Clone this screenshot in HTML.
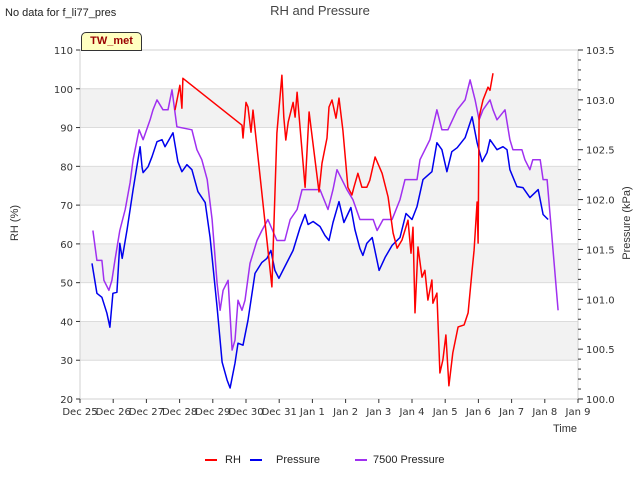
<!DOCTYPE html>
<html><head><meta charset="utf-8"><style>
body{margin:0;background:#fff;font-family:"Liberation Sans","DejaVu Sans",sans-serif}
svg{display:block}
</style></head><body>
<svg id="c" width="640" height="480" font-family="DejaVu Sans, Liberation Sans, sans-serif"></svg>
<script>
const xTickLabels=["Dec 25","Dec 26","Dec 27","Dec 28","Dec 29","Dec 30","Dec 31","Jan 1","Jan 2","Jan 3","Jan 4","Jan 5","Jan 6","Jan 7","Jan 8","Jan 9"];
const rhTicks=[20,30,40,50,60,70,80,90,100,110];
const pTicks=["100.0","100.5","101.0","101.5","102.0","102.5","103.0","103.5"];
const rhDays=[2.86,3.01,3.07,3.10,4.88,4.91,5.00,5.06,5.15,5.21,5.78,5.93,6.08,6.14,6.20,6.27,6.42,6.48,6.54,6.78,6.90,6.96,7.20,7.29,7.44,7.50,7.59,7.71,7.80,7.92,8.07,8.19,8.25,8.37,8.49,8.64,8.73,8.89,9.10,9.28,9.43,9.55,9.70,9.88,9.97,10.03,10.09,10.18,10.30,10.39,10.48,10.60,10.63,10.75,10.84,10.93,11.02,11.11,11.23,11.39,11.57,11.69,11.81,11.87,11.96,11.99,12.02,12.14,12.29,12.35,12.44];
const rhValues=[94.5,100.9,95.0,102.7,90.6,87.3,96.5,95.3,88.8,94.5,48.9,88.6,103.5,92.7,86.8,91.4,96.5,92.7,99.1,74.6,94.0,89.8,73.4,80.8,87.3,95.3,97.1,92.4,97.6,89.3,74.6,72.6,74.6,78.2,74.6,74.6,76.4,82.4,78.2,72.1,62.8,58.9,61.0,66.1,57.6,64.3,42.2,59.2,51.4,53.2,45.5,50.7,44.7,47.3,26.7,30.1,36.5,23.4,31.9,38.6,39.1,42.2,53.2,58.4,70.8,60.2,92.7,97.1,100.4,99.6,104.0];
const pDays=[0.36,0.51,0.66,0.81,0.90,0.99,1.11,1.20,1.27,1.42,1.60,1.81,1.87,1.90,2.05,2.17,2.32,2.47,2.56,2.80,2.95,3.07,3.22,3.37,3.55,3.77,3.92,4.13,4.28,4.43,4.52,4.67,4.76,4.91,5.06,5.27,5.48,5.63,5.75,5.87,5.99,6.11,6.42,6.63,6.78,6.87,7.02,7.23,7.38,7.50,7.62,7.80,7.95,8.16,8.28,8.43,8.52,8.64,8.80,9.01,9.19,9.40,9.64,9.82,10.00,10.15,10.33,10.60,10.75,10.90,11.05,11.20,11.36,11.60,11.81,11.96,12.11,12.26,12.35,12.56,12.74,12.86,12.95,13.16,13.34,13.55,13.80,13.95,14.10];
const pValues=[101.36,101.06,101.02,100.86,100.72,101.06,101.07,101.56,101.41,101.70,102.10,102.53,102.32,102.27,102.33,102.43,102.58,102.60,102.53,102.67,102.38,102.28,102.35,102.30,102.08,101.97,101.62,100.92,100.37,100.19,100.11,100.36,100.56,100.54,100.79,101.26,101.37,101.41,101.49,101.29,101.21,101.29,101.49,101.72,101.85,101.75,101.78,101.73,101.64,101.59,101.77,101.98,101.77,101.92,101.70,101.51,101.44,101.56,101.62,101.29,101.42,101.54,101.62,101.86,101.80,101.93,102.20,102.28,102.57,102.50,102.28,102.48,102.52,102.62,102.83,102.57,102.38,102.47,102.60,102.50,102.53,102.50,102.30,102.13,102.12,102.02,102.10,101.85,101.80];
const p75Days=[0.39,0.51,0.66,0.72,0.87,0.96,1.05,1.20,1.36,1.51,1.60,1.72,1.78,1.90,2.11,2.20,2.32,2.50,2.65,2.77,2.92,3.37,3.52,3.67,3.83,3.98,4.13,4.22,4.31,4.46,4.58,4.67,4.76,4.88,4.97,5.12,5.33,5.48,5.66,5.93,6.17,6.33,6.54,6.69,7.23,7.47,7.62,7.74,7.89,8.04,8.22,8.43,8.83,8.95,9.13,9.40,9.64,9.79,10.15,10.24,10.54,10.75,10.90,11.08,11.36,11.60,11.75,11.90,12.02,12.14,12.35,12.44,12.56,12.80,12.95,13.04,13.31,13.40,13.55,13.64,13.86,13.95,14.07,14.40];
const p75Values=[101.69,101.39,101.39,101.19,101.09,101.19,101.39,101.69,101.90,102.17,102.40,102.60,102.70,102.60,102.80,102.90,103.00,102.90,102.90,103.10,102.73,102.70,102.50,102.40,102.20,101.80,101.16,100.89,101.09,101.19,100.49,100.59,100.99,100.89,100.99,101.36,101.59,101.69,101.80,101.59,101.59,101.80,101.90,102.10,102.10,101.90,102.10,102.30,102.20,102.10,102.00,101.80,101.80,101.69,101.80,101.80,102.00,102.20,102.20,102.40,102.60,102.90,102.70,102.70,102.90,103.00,103.20,103.00,102.80,102.90,103.00,102.90,102.80,102.90,102.60,102.50,102.50,102.40,102.30,102.40,102.40,102.20,102.20,100.89];

const L=80,R=578,T=50,B=399;
const xS=d=>L+d*(R-L)/15;
const yRH=v=>B-(v-20)*(B-T)/90;
const yP=v=>B-(v-100)*(B-T)/3.5;
const svg=document.getElementById('c');
const NS='http://www.w3.org/2000/svg';
function mk(tag,attrs,parent){const e=document.createElementNS(NS,tag);for(const k in attrs)e.setAttribute(k,attrs[k]);(parent||svg).appendChild(e);return e;}
function txt(s,attrs){const e=mk('text',attrs);e.textContent=s;return e;}

// bands
for(let i=0;i<rhTicks.length-1;i++){
  if(i%2===1){const b=mk('rect',{x:L,y:yRH(rhTicks[i]+10),width:R-L,height:yRH(rhTicks[i])-yRH(rhTicks[i]+10),fill:'#f2f2f2'});
  }
}
rhTicks.forEach(v=>{const g=mk('line',{x1:L,x2:R,y1:yRH(v),y2:yRH(v),stroke:'#dcdcdc','stroke-width':1});
});
mk('rect',{x:L,y:T,width:R-L,height:B-T,fill:'none',stroke:'#d0d0d0'});

// left ticks
rhTicks.forEach(v=>{mk('line',{x1:L-4,x2:L,y1:yRH(v),y2:yRH(v),stroke:'#333'});
const t=txt(v,{x:L-7,y:yRH(v)+4,'text-anchor':'end','font-size':10,fill:'#333'});
});
// right ticks
for(let i=0;i<=35;i++){const v=100+i*0.1;const maj=i%5===0;mk('line',{x1:R,x2:R+(maj?5:3),y1:yP(v),y2:yP(v),stroke:'#333'});}
pTicks.forEach(s=>{const t=txt(s,{x:R+8,y:yP(parseFloat(s))+4,'font-size':10,fill:'#333'});
});
// x ticks
xTickLabels.forEach((s,i)=>{mk('line',{x1:xS(i),x2:xS(i),y1:B,y2:B+4,stroke:'#333'});
const t=txt(s,{x:xS(i),y:B+16,'text-anchor':'middle','font-size':10,fill:'#333'});
});

function series(days,vals,yf,color,name){
  const pts=days.map((d,i)=>xS(d).toFixed(1)+','+yf(vals[i]).toFixed(1)).join(' ');
  const p=mk('polyline',{points:pts,fill:'none',stroke:color,'stroke-width':1.5,'stroke-linejoin':'round'});
  
}
series(pDays,pValues,yP,'#0000ee','pressure-line');
series(p75Days,p75Values,yP,'#a030f0','7500-pressure-line');
series(rhDays,rhValues,yRH,'#ff0000','rh-line');
</script>
<div style="position:absolute;left:0;top:0;width:640px;height:480px;pointer-events:none">
<div style="position:absolute;left:5px;top:7px;font-size:11px;color:#222">No data for f_li77_pres</div>
<div style="position:absolute;left:0;width:640px;top:3px;text-align:center;font-size:13px;color:#444">RH and Pressure</div>
<div style="position:absolute;left:81px;top:32px;width:59px;height:17px;background:#ffffc0;border:1px solid #333;border-radius:5px 5px 0 0;font-size:11px;font-weight:bold;color:#900;text-align:center;line-height:17px">TW_met</div>
<div style="position:absolute;left:553px;top:423px;font-size:11px;color:#333">Time</div>
<div style="position:absolute;left:-15px;top:217px;width:60px;text-align:center;transform:rotate(-90deg);font-size:11px;color:#333">RH (%)</div>
<div style="position:absolute;left:587px;top:217px;width:80px;text-align:center;transform:rotate(-90deg);font-size:11px;color:#333">Pressure (kPa)</div>
<div style="position:absolute;left:0;top:454px;width:640px;height:14px;font-size:11px;color:#222">
 <div style="position:absolute;left:205px;top:0"><span style="display:inline-block;width:12px;height:2px;background:#f00;vertical-align:middle;margin-right:8px"></span>RH</div>
 <div style="position:absolute;left:250px;top:0"><span style="display:inline-block;width:12px;height:2px;background:#00e;vertical-align:middle;margin-right:14px"></span>Pressure</div>
 <div style="position:absolute;left:355px;top:0"><span style="display:inline-block;width:12px;height:2px;background:#a030f0;vertical-align:middle;margin-right:6px"></span>7500 Pressure</div>
</div>
</div>
</body></html>
